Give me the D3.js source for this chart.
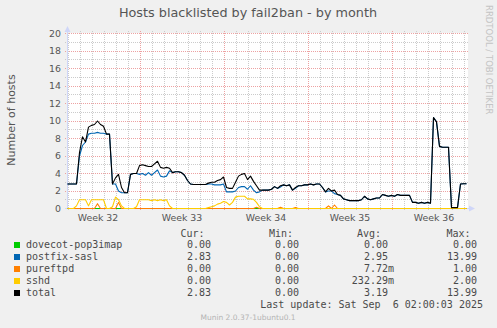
<!DOCTYPE html>
<html>
<head>
<meta charset="utf-8">
<script src="https://cdn.jsdelivr.net/npm/d3@7"></script>
<style>
body { margin: 0; background: #f0f0f0; }
svg { display: block; }
text { font-family: "DejaVu Sans", sans-serif; }
.mono { font-family: "DejaVu Sans Mono", monospace; white-space: pre; }
</style>
</head>
<body>
<script>
// one sample every 6 hours, first sample at the left edge of the plot
var stepMs = 6 * 3600 * 1000;
var startTime = Date.UTC(2025, 7, 4, 22);
var endTime = Date.UTC(2025, 8, 7, 6);

var seriesNames = ["dovecot-pop3imap", "postfix-sasl", "pureftpd", "sshd", "total"];
var seriesColors = ["#00cc00", "#0066b3", "#ff8000", "#ffcc00", "#000000"];

var dovecot = [
  0, 0, 0, 0, 0, 0, 0, 0, 0, 0,
  0, 0, 0, 0, 0, 0, 0, 0, 0, 0,
  0, 0, 0, 0, 0, 0, 0, 0, 0, 0,
  0, 0, 0, 0, 0, 0, 0, 0, 0, 0,
  0, 0, 0, 0, 0, 0, 0, 0, 0, 0,
  0, 0, 0, 0, 0, 0, 0, 0, 0, 0,
  0, 0, 0, 0, 0, 0, 0, 0, 0, 0,
  0, 0, 0, 0, 0, 0, 0, 0, 0, 0,
  0, 0, 0, 0, 0, 0, 0, 0, 0, 0,
  0, 0, 0, 0, 0, 0, 0, 0, 0, 0,
  0, 0, 0, 0, 0, 0, 0, 0, 0, 0,
  0, 0, 0, 0, 0, 0, 0, 0, 0, 0,
  0, 0, 0, 0, 0, 0, 0, 0, 0, 0,
  0, 0, 0, 0
];

var postfix = [
  2.8, 2.8, 2.8, 2.8, 6.0, 7.2, 7.6, 8.5, 8.6, 8.6,
  8.7, 8.6, 8.6, 8.5, 8.5, 2.8, 2.8, 2.0, 1.8, 1.8,
  1.8, 3.9, 4.0, 4.0, 3.9, 4.0, 3.8, 4.1, 3.8, 4.1,
  4.4, 3.7, 3.6, 3.7, 4.3, 4.1, 4.2, 4.2, 4.1, 3.8,
  3.2, 2.8, 2.75, 2.75, 2.75, 2.75, 2.75, 2.8, 2.8, 2.7,
  2.7, 2.7, 2.8, 1.9, 1.9, 1.9, 2.0, 2.4, 2.5, 2.5,
  2.2, 2.6, 2.1, 1.8, 1.9, 2.1, 2.1, 2.1, 2.2, 2.5,
  2.3, 2.45, 2.7, 2.6, 2.7, 2.1, 2.3, 2.6, 2.6, 2.7,
  2.7, 2.8, 2.7, 2.8, 2.8, 2.4, 1.9, 2.0, 2.0, 1.7,
  1.6, 1.5, 1.1, 1.0, 0.9, 0.9, 0.9, 0.9, 1.0, 1.4,
  1.1, 1.0, 1.1, 1.2, 1.2, 1.6, 1.5, 1.4, 1.5, 1.4,
  1.6, 1.5, 1.5, 1.5, 1.5, 0.7, 0.7, 0.6, 0.7, 0.6,
  0.7, 0.6, 10.4, 9.9, 7.1, 7.0, 7.0, 7.0, 0.1, 0.1,
  0.1, 2.8, 2.83, 2.83
];

var pureftpd = [
  0, 0, 0, 0, 0, 0, 0, 0, 0, 0,
  0.55, 0, 0, 0, 0, 0, 0, 0.7, 0, 0,
  0, 0, 0, 0, 0, 0, 0, 0, 0, 0,
  0, 0, 0, 0, 0, 0, 0, 0, 0, 0,
  0, 0, 0, 0, 0, 0, 0, 0, 0, 0,
  0, 0, 0, 0, 0, 0, 0, 0, 0, 0,
  0, 0, 0, 0.15, 0, 0, 0, 0, 0, 0,
  0, 0.15, 0, 0, 0, 0, 0.1, 0, 0, 0,
  0, 0, 0, 0, 0, 0, 0, 0.3, 0, 0.4,
  0, 0, 0, 0, 0, 0, 0, 0, 0, 0,
  0, 0, 0, 0, 0, 0, 0, 0, 0, 0,
  0, 0, 0, 0, 0, 0, 0, 0, 0, 0,
  0, 0, 0, 0, 0, 0, 0, 0, 0, 0,
  0, 0, 0, 0
];

var sshd = [
  0, 0, 0, 0.3, 1.0, 1.0, 1.0, 0.3, 1.0, 1.0,
  1.0, 1.0, 1.0, 0, 0, 0.2, 1.3, 1.0, 0.3, 0,
  0, 0, 0, 0.2, 1.0, 1.0, 1.0, 1.0, 0.9, 1.0,
  0.9, 1.0, 0.9, 1.0, 0.3, 0, 0, 0, 0, 0,
  0, 0, 0, 0, 0, 0, 0, 0.1, 0.2, 0.3,
  0.5, 0.6, 0.8, 0.7, 0.4, 0.7, 1.3, 1.4, 1.4, 1.4,
  1.1, 1.1, 1.05, 0.7, 0.2, 0, 0, 0, 0, 0,
  0, 0, 0, 0, 0, 0, 0, 0, 0, 0,
  0, 0, 0, 0, 0, 0, 0, 0, 0, 0,
  0, 0, 0, 0, 0, 0, 0, 0, 0, 0,
  0, 0, 0, 0, 0, 0, 0, 0, 0, 0,
  0, 0, 0, 0, 0, 0, 0, 0, 0, 0,
  0, 0, 0, 0, 0, 0, 0, 0, 0, 0,
  0, 0, 0, 0
];

var total = [
  2.8, 2.8, 2.8, 2.8, 6.4, 8.2, 7.6, 9.3, 9.5, 9.6,
  10.0, 9.6, 9.4, 8.5, 8.5, 2.8, 3.5, 3.9, 2.4, 1.8,
  1.8, 3.9, 4.0, 4.0, 4.9, 5.0, 4.9, 4.8, 4.8, 5.1,
  5.4, 4.7, 4.6, 4.7, 4.6, 4.1, 4.2, 4.2, 4.1, 3.8,
  3.2, 2.8, 2.75, 2.75, 2.75, 2.75, 2.75, 2.9, 3.0, 3.0,
  3.2, 3.3, 3.6, 2.4, 2.3, 2.3, 3.0, 3.7, 3.9, 4.0,
  3.3, 3.7, 3.1, 2.6, 2.1, 2.1, 2.1, 2.1, 2.2, 2.5,
  2.3, 2.6, 2.7, 2.6, 2.7, 2.1, 2.4, 2.6, 2.6, 2.7,
  2.7, 2.8, 2.7, 2.8, 2.8, 2.4, 1.9, 2.3, 2.0, 2.1,
  1.6, 1.5, 1.1, 1.0, 0.9, 0.9, 0.9, 0.9, 1.0, 1.4,
  1.1, 1.0, 1.1, 1.2, 1.2, 1.6, 1.5, 1.4, 1.5, 1.4,
  1.6, 1.5, 1.5, 1.5, 1.5, 0.7, 0.7, 0.6, 0.7, 0.6,
  0.7, 0.6, 10.4, 9.9, 7.1, 7.0, 7.0, 7.0, 0.1, 0.1,
  0.1, 2.8, 2.83, 2.83
];

var legendCur = [0, 2.83, 0, 0, 2.83];
var legendMin = [0, 0, 0, 0, 0];
var legendAvg = [0, 2.95, 0.00772, 0.23229, 3.19];
var legendMax = [0, 13.99, 1, 2, 13.99];
var lastUpdate = "Last update: Sat Sep  6 02:00:03 2025";

var seriesData = [dovecot, postfix, pureftpd, sshd, total];

var svg = d3.select("body").append("svg")
    .attr("width", 497)
    .attr("height", 328)
    .style("background", "#f0f0f0");

var x = d3.scaleUtc()
    .domain([new Date(startTime), new Date(endTime)])
    .range([67, 467]);
var y = d3.scaleLinear()
    .domain([0, 20])
    .range([208, 33]);

function px(v) { return Math.round(v) + 0.5; }

// canvas
svg.append("rect")
    .attr("x", 67).attr("y", 33)
    .attr("width", 401).attr("height", 176)
    .attr("fill", "#ffffff");

var grid = svg.append("g").attr("fill", "none").attr("stroke-dasharray", "1,1");

// minor grid: days and every host
var days = d3.utcDay.range(new Date(startTime), new Date(endTime))
    .filter(function(d) { return d.getUTCDay() != 1; });
grid.selectAll("line.vminor")
    .data(days)
  .enter().append("line")
    .attr("x1", function(d) { return px(x(d)); })
    .attr("x2", function(d) { return px(x(d)); })
    .attr("y1", 31).attr("y2", 211)
    .attr("stroke", "#cbcbcb");

grid.selectAll("line.hminor")
    .data(d3.range(1, 20, 2))
    .enter().append("line")
    .attr("x1", 65).attr("x2", 469)
    .attr("y1", function(d) { return px(y(d)); })
    .attr("y2", function(d) { return px(y(d)); })
    .attr("stroke", "#cbcbcb");

// major grid: mondays and every 2 hosts
var mondays = d3.utcMonday.range(new Date(startTime), new Date(endTime));
grid.selectAll("line.vmajor")
    .data(mondays)
  .enter().append("line")
    .attr("x1", function(d) { return px(x(d)); })
    .attr("x2", function(d) { return px(x(d)); })
    .attr("y1", 31).attr("y2", 211)
    .attr("stroke", "#eda2a2");

grid.selectAll("line.hmajor")
    .data(y.ticks(10))
    .enter().append("line")
    .attr("x1", 65).attr("x2", 469)
    .attr("y1", function(d) { return px(y(d)); })
    .attr("y2", function(d) { return px(y(d)); })
    .attr("stroke", "#eda2a2");

// axes
var axisColor = "#cfd6f8";
svg.append("line")
    .attr("x1", 67.5).attr("x2", 67.5).attr("y1", 209).attr("y2", 30)
    .attr("stroke", axisColor);
svg.append("line")
    .attr("x1", 65).attr("x2", 470).attr("y1", 208.5).attr("y2", 208.5)
    .attr("stroke", axisColor);
svg.append("path")
    .attr("d", "M64.5,32L70.5,32L67.5,26Z")
    .attr("fill", axisColor);
svg.append("path")
    .attr("d", "M469,205.5L469,211.5L475,208.5Z")
    .attr("fill", axisColor);

// y tick labels
svg.selectAll("text.ylab")
    .data(y.ticks(10))
  .enter().append("text")
    .attr("x", 61)
    .attr("y", function(d) { return y(d) + 3.6; })
    .attr("text-anchor", "end")
    .attr("font-size", "9.4px")
    .attr("fill", "#555")
    .text(function(d) { return d; });

// week labels, centred in the week
var weekStarts = d3.utcMonday.range(d3.utcMonday.floor(new Date(startTime)), new Date(endTime))
    .filter(function(d) { var c = x(d3.utcHour.offset(d, 84)); return c > 67 && c < 467; });
var weekFmt = d3.utcFormat("%V");
svg.selectAll("text.week")
    .data(weekStarts)
  .enter().append("text")
    .attr("x", function(d) { return x(d3.utcHour.offset(d, 84)); })
    .attr("y", 220.5)
    .attr("text-anchor", "middle")
    .attr("font-size", "9.4px")
    .attr("fill", "#555")
    .text(function(d) { return "Week " + weekFmt(d); });

// series lines
var line = d3.line()
    .x(function(d, i) { return x(new Date(startTime + i * stepMs)) + 0.5; })
    .y(function(d) { return y(d) + 0.5; });

svg.selectAll("path.series")
    .data(seriesData)
  .enter().append("path")
    .attr("class", "series")
    .attr("d", line)
    .attr("fill", "none")
    .attr("stroke", function(d, i) { return seriesColors[i]; })
    .attr("stroke-width", 1.1)
    .attr("stroke-linejoin", "round");

// title and axis label
svg.append("text")
    .attr("x", 248).attr("y", 17)
    .attr("text-anchor", "middle")
    .attr("font-size", "12.8px")
    .attr("fill", "#555")
    .text("Hosts blacklisted by fail2ban - by month");

svg.append("text")
    .attr("transform", "translate(14.5,120) rotate(-90)")
    .attr("text-anchor", "middle")
    .attr("font-size", "11px")
    .attr("fill", "#555")
    .text("Number of hosts");

svg.append("text")
    .attr("transform", "translate(486,5) rotate(90)")
    .attr("font-size", "8.5px")
    .attr("fill", "#c4c4c4")
    .text("RRDTOOL / TOBI OETIKER");

// legend
function fmt(v) {
  if (v != 0 && Math.abs(v) < 1) return (v * 1000).toFixed(2) + "m";
  return v.toFixed(2) + " ";
}

var legend = svg.append("g").attr("class", "mono").attr("font-size", "10px").attr("fill", "#4a4a4a");
var headers = [["Cur:", 204.5], ["Min:", 293], ["Avg:", 381], ["Max:", 470.5]];
legend.selectAll("text.head")
    .data(headers)
  .enter().append("text")
    .attr("class", "mono")
    .attr("x", function(d) { return d[1]; })
    .attr("y", 236.5)
    .attr("text-anchor", "end")
    .text(function(d) { return d[0]; });

var rows = legend.selectAll("g.row")
    .data(seriesNames)
  .enter().append("g")
    .attr("transform", function(d, i) { return "translate(0," + (248 + i * 12) + ")"; });

rows.append("rect")
    .attr("x", 14).attr("y", -6)
    .attr("width", 6).attr("height", 6)
    .attr("fill", function(d, i) { return seriesColors[i]; });
rows.append("text")
    .attr("class", "mono")
    .attr("x", 26)
    .text(function(d) { return d; });

var cols = [[legendCur, 217], [legendMin, 305], [legendAvg, 394], [legendMax, 483]];
cols.forEach(function(c) {
  rows.append("text")
      .attr("class", "mono")
      .attr("x", c[1])
      .attr("text-anchor", "end")
      .text(function(d, i) { return fmt(c[0][i]); });
});

legend.append("text")
    .attr("class", "mono")
    .attr("x", 483).attr("y", 308)
    .attr("text-anchor", "end")
    .text(lastUpdate);

svg.append("text")
    .attr("x", 248).attr("y", 320)
    .attr("text-anchor", "middle")
    .attr("font-size", "7.5px")
    .attr("fill", "#b4b4b4")
    .text("Munin 2.0.37-1ubuntu0.1");
</script>
</body>
</html>
